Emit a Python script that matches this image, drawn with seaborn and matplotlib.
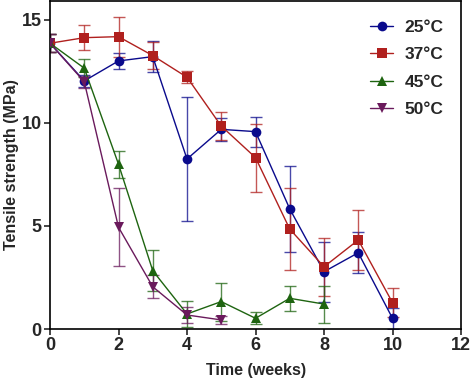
import matplotlib
matplotlib.use("Agg")
import matplotlib.pyplot as plt
import seaborn as sns
import pandas as pd
import numpy as np

weeks = [0, 1, 2, 3, 4, 5, 6, 7, 8, 9, 10]

t25 = [13.87, 12.04, 13.01, 13.22, 8.25, 9.69, 9.58, 5.83, 2.78, 3.70, 0.52]
e25 = [0.44, 0.30, 0.37, 0.75, 3.0, 0.55, 0.73, 2.1, 1.45, 1.0, 0.5]

t37 = [13.87, 14.14, 14.19, 13.27, 12.22, 9.85, 8.32, 4.85, 3.02, 4.32, 1.28]
e37 = [0.44, 0.62, 0.97, 0.65, 0.30, 0.70, 1.65, 2.0, 1.40, 1.45, 0.72]

weeks45 = [0, 1, 2, 3, 4, 5, 6, 7, 8]
t45 = [13.87, 12.66, 8.0, 2.83, 0.73, 1.33, 0.52, 1.49, 1.21]
e45 = [0.44, 0.45, 0.65, 1.0, 0.65, 0.92, 0.30, 0.60, 0.90]

weeks50 = [0, 1, 2, 3, 4, 5]
t50 = [13.87, 12.0, 4.94, 2.05, 0.68, 0.44]
e50 = [0.44, 0.30, 1.90, 0.55, 0.40, 0.20]

labels = ["25°C", "37°C", "45°C", "50°C"]
colors = ["#0a0a8c", "#b0201e", "#1e6410", "#6a1a5c"]
markers = ["o", "s", "^", "v"]

sns.set_style("ticks")
plt.rcParams["font.family"] = ["Liberation Sans", "DejaVu Sans"]
plt.rcParams["font.weight"] = "bold"

fig = plt.figure(figsize=(4.71, 3.84), dpi=100)
ax = fig.add_axes([50/471, 55/384, 411/471, 328/384])

series = [(weeks, t25, e25), (weeks, t37, e37), (weeks45, t45, e45), (weeks50, t50, e50)]
for (xs, ys, es), lab, c, m in zip(series, labels, colors, markers):
    df = pd.DataFrame({"x": xs, "y": ys})
    ax.errorbar(xs, ys, yerr=es, fmt="none", ecolor=c, elinewidth=1.0,
                capsize=4.5, capthick=1.0, alpha=0.75, zorder=2)
    sns.lineplot(data=df, x="x", y="y", ax=ax, color=c, marker=m,
                 markersize=7, markeredgewidth=0, linewidth=1.0, label=lab, zorder=3)

ax.set_xlim(0, 12)
ax.set_ylim(0, 15.92)
ax.set_xticks([0, 2, 4, 6, 8, 10, 12])
ax.set_yticks([0, 5, 10, 15])
ax.tick_params(axis="both", direction="out", length=4, width=1.2, labelsize=13, pad=2)
for lbl in ax.get_xticklabels() + ax.get_yticklabels():
    lbl.set_fontweight("bold")
for s in ax.spines.values():
    s.set_linewidth(1.2)
    s.set_visible(True)
    s.set_color("black")

ax.set_xlabel("Time (weeks)", fontsize=11.5, fontweight="bold")
ax.set_ylabel("Tensile strength (MPa)", fontsize=11.5, fontweight="bold")
ax.xaxis.set_label_coords(0.502, -0.105)
ax.yaxis.set_label_coords(-0.075, 0.5)

leg = ax.legend(loc="upper right", bbox_to_anchor=(0.995, 0.99), frameon=False,
                prop={"weight": "bold", "size": 12.5}, handlelength=1.3,
                handletextpad=0.65, labelspacing=0.7)

fig.savefig("out.png", dpi=100)
